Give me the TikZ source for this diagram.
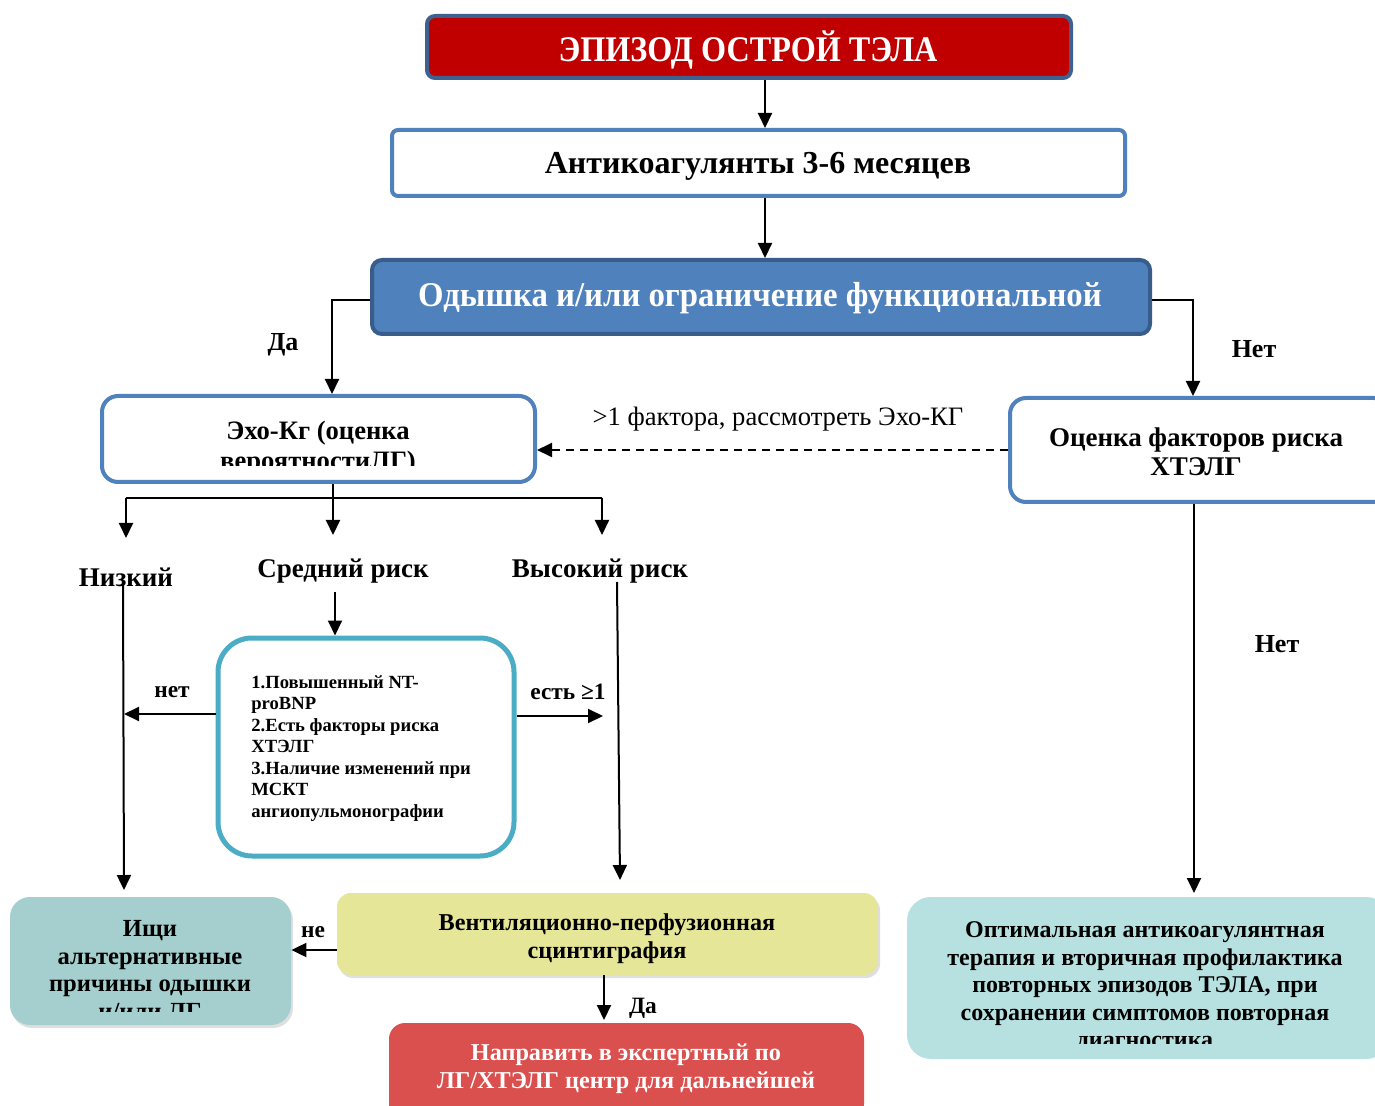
\documentclass[tikz,border=0pt]{standalone}
\usepackage{fontspec}
\setmainfont{Liberation Serif}
\usetikzlibrary{arrows.meta,shadows,calc}
\definecolor{redtop}{HTML}{C00000}
\definecolor{topborder}{HTML}{3F6190}
\definecolor{blueb}{HTML}{4F81BD}
\definecolor{bluedark}{HTML}{385D8A}
\definecolor{cyanb}{HTML}{4BACC6}
\definecolor{tealbox}{HTML}{A4CFCE}
\definecolor{yellowbox}{HTML}{E6E699}
\definecolor{redbox}{HTML}{DA504E}
\definecolor{lighttealbox}{HTML}{B6E1E0}
\newcommand{\fs}[2]{\fontsize{#1}{#2}\selectfont}
\begin{document}
\begin{tikzpicture}[x=0.5pt,y=-0.5pt,
  arr/.style={-{Triangle[length=7.5pt,width=7pt]}, line width=1pt},
  ln/.style={line width=1pt},
  boxbase/.style={inner sep=0pt, align=center},
  shad/.style={drop shadow={opacity=0.25, shadow xshift=1pt, shadow yshift=-1.5pt}},
  lbl/.style={inner sep=0pt, font=\bfseries\fs{13}{15}},
  slbl/.style={inner sep=0pt, font=\bfseries\fs{11.7}{14}}]
\clip (0,0) rectangle (1375,1106);
\fill[white] (0,0) rectangle (1375,1106);

% top boxes
\node[boxbase, draw=topborder, fill=redtop, line width=2pt, rounded corners=4pt,
  minimum width=322pt, minimum height=31pt] (b1) at (749,47) {};
\node[boxbase, text=white, font=\bfseries\fs{16.1}{18}] (b1t) at (748,50) {\scalebox{1}[1.12]{ЭПИЗОД ОСТРОЙ ТЭЛА}};
\node[boxbase, draw=blueb, fill=white, line width=2pt, rounded corners=3pt,
  minimum width=366.5pt, minimum height=33pt] (b2) at (758.5,163) {};
\node[boxbase, font=\bfseries\fs{16}{19}] (b2t) at (758,166) {Антикоагулянты 3-6 месяцев};
\node[boxbase, draw=bluedark, fill=blueb, line width=2pt, rounded corners=5pt,
  minimum width=389pt, minimum height=37pt] (b3) at (761,297) {};
\node[boxbase, text=white, font=\bfseries\fs{16.4}{19}] (b3t) at (760,298) {\scalebox{1}[1.06]{Одышка и/или ограничение функциональной}};

% echo box
\node[boxbase, draw=blueb, fill=white, line width=2pt, rounded corners=8pt,
  minimum width=216.5pt, minimum height=43pt] (echo) at (318.5,439) {};
\begin{scope}
\clip (104,398) rectangle (533,466);
\node[boxbase, font=\bfseries\fs{13.3}{15}] (echot) at (318,448) {Эхо-Кг (оценка\\вероятностиЛГ)};
\end{scope}

% right risk box
\node[boxbase, draw=blueb, fill=white, line width=2pt, rounded corners=8pt,
  minimum width=190pt, minimum height=52pt] (risk) at (1200,450) {};
\node[boxbase, font=\bfseries\fs{13.5}{14.5}] (riskt) at (1196,452) {Оценка факторов риска\\ХТЭЛГ};

% cyan criteria box
\node[boxbase, draw=cyanb, fill=white, line width=2.5pt, rounded corners=17pt,
  minimum width=148pt, minimum height=109pt] (crit) at (366,747) {};
\node[inner sep=0pt, anchor=north west, align=left, font=\bfseries\fs{9.3}{10.75}]
  (critt) at (251,675) {1.Повышенный NT-\\proBNP\\2.Есть факторы риска\\ХТЭЛГ\\3.Наличие изменений при\\МСКТ\\ангиопульмонографии};

% bottom boxes
\node[boxbase, fill=tealbox, rounded corners=10pt, shad,
  minimum width=140.5pt, minimum height=64pt] (alt) at (150.5,961) {};
\begin{scope}
\clip (10,897) rectangle (291,1011);
\node[boxbase, font=\bfseries\fs{12.3}{13.8}] (altt) at (150,970) {Ищи\\альтернативные\\причины одышки\\и/или ЛГ};
\end{scope}

\node[boxbase, fill=yellowbox, rounded corners=7pt, shad,
  minimum width=270.5pt, minimum height=41pt] (vq) at (607.5,934) {};
\node[boxbase, font=\bfseries\fs{12.1}{14}] (vqt) at (607,939) {Вентиляционно-перфузионная\\сцинтиграфия};

\node[boxbase, fill=redbox, rounded corners=8pt,
  minimum width=237.5pt, minimum height=48.5pt] (exp) at (626.5,1071.5) {};
\node[boxbase, text=white, font=\bfseries\fs{12.1}{14}] (expt) at (626,1069) {Направить в экспертный по\\ЛГ/ХТЭЛГ центр для дальнейшей};

\node[boxbase, fill=lighttealbox, rounded corners=12pt,
  minimum width=241.5pt, minimum height=81pt] (opt) at (1148.5,978) {};
\begin{scope}
\clip (907,897) rectangle (1375,1043);
\node[boxbase, font=\bfseries\fs{12}{13.75}] (optt) at (1145,987) {Оптимальная антикоагулянтная\\терапия и вторичная профилактика\\повторных эпизодов ТЭЛА, при\\сохранении симптомов повторная\\диагностика};
\end{scope}

% labels
\node[lbl] (da1) at (283,345) {Да};
\node[lbl] (net1) at (1254,349) {Нет};
\node[inner sep=0pt, font=\fs{13.3}{15}] (fact) at (778,419) {>1 фактора, рассмотреть Эхо-КГ};
\node[lbl, font=\bfseries\fs{13.5}{15}] (low) at (126,577) {Низкий};
\node[lbl, font=\bfseries\fs{13.5}{15}] (mid) at (343,571) {Средний риск};
\node[lbl, font=\bfseries\fs{13.5}{15}] (high) at (600,571) {Высокий риск};
\node[slbl] (net2) at (172,692) {нет};
\node[slbl] (est) at (568,692) {есть ≥1};
\node[slbl] (ne) at (313,932) {не};
\node[slbl] (da2) at (643,1008) {Да};
\node[lbl] (net3) at (1277,644) {Нет};

% coordinates
\coordinate (x765) at (765,0);
\coordinate (xl) at (332,300);
\coordinate (xr) at (1193,300);
\coordinate (x333) at (333,0);
\coordinate (hy) at (0,498);
\coordinate (lowA) at (126,538);
\coordinate (midA) at (333,535);
\coordinate (highA) at (602,535);
\coordinate (lowS) at (123,585);
\coordinate (lowE) at (124,890);
\coordinate (highS) at (617,582);
\coordinate (highE) at (620,880);
\coordinate (midS) at (335,592);
\coordinate (critL) at (124,714);
\coordinate (critR) at (603,716);
\coordinate (vqA) at (604,1020);
\coordinate (optA) at (1194,893);

% connectors
\draw[arr] (b1.south -| x765) -- (b2.north -| x765);
\draw[arr] (b2.south -| x765) -- (b3.north -| x765);
\draw[arr] (b3.west |- xl) -- (xl) -- (echo.north -| xl);
\draw[arr] (b3.east |- xr) -- (xr) -- (risk.north -| xr);
\draw[arr, dash pattern=on 4pt off 3pt] (risk.west) -- (risk.west -| echo.east);
\draw[arr] (echo.south -| x333) -- (midA);
\draw[ln] (lowA |- hy) -- (highA |- hy);
\draw[arr] (lowA |- hy) -- (lowA);
\draw[arr] (highA |- hy) -- (highA);
\draw[arr] (lowS) -- (lowE);
\draw[arr] (highS) -- (highE);
\draw[arr] (midS) -- (crit.north -| midS);
\draw[arr] (crit.west |- critL) -- (critL);
\draw[arr] (crit.east |- critR) -- (critR);
\draw[arr] (vq.west |- 0,950) -- (alt.east |- 0,950);
\draw[arr] (vq.south -| vqA) -- (vqA);
\draw[arr] (risk.south -| optA) -- (optA);
\end{tikzpicture}
\end{document}
